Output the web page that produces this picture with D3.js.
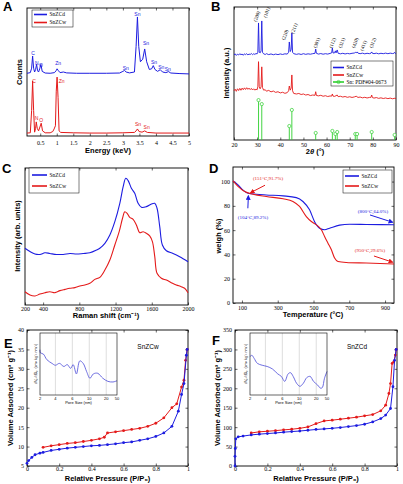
<!DOCTYPE html>
<html>
<head>
<meta charset="utf-8">
<script src="https://cdn.jsdelivr.net/npm/d3@7"></script>
<style>
  body { margin: 0; background: #fff; }
</style>
</head>
<body>
<svg id="fig" width="403" height="484" font-family="'Liberation Serif', serif"></svg>
<script>
// ---- data ----
// A: EDS spectra [energy keV, counts (arb.)]
var edsD = [[0.1,49],[0.2,49.5],[0.24,53],[0.27,62.5],[0.30,53],[0.33,50],[0.36,52],[0.39,56],[0.42,51],[0.45,50],[0.49,53],[0.52,56],[0.56,50.5],[0.65,49.2],[0.8,49],[0.93,49.5],[0.98,51],[1.01,52.5],[1.05,51],[1.1,49.5],[1.2,50],[1.3,49.3],[1.6,49],[2,49],[2.5,49],[2.9,49.2],[3.0,50.5],[3.05,51.2],[3.1,50],[3.2,49.3],[3.35,50],[3.4,70],[3.44,93],[3.48,70],[3.53,58],[3.6,60],[3.66,68],[3.72,58],[3.8,52],[3.87,52.5],[3.92,55],[3.97,52],[4.05,50.5],[4.13,51.8],[4.2,50],[4.3,49.5],[4.38,50.3],[4.45,49.2],[4.7,48.8],[5,48.5]];
var edsW = [[0.1,2.3],[0.2,2.5],[0.24,20],[0.27,43],[0.30,20],[0.33,3],[0.36,6],[0.38,11],[0.41,6],[0.45,4],[0.49,7],[0.53,10],[0.57,4],[0.65,2.5],[0.8,2.5],[0.88,3.5],[0.92,5.5],[0.96,8],[0.985,35],[1.01,46],[1.04,30],[1.07,4],[1.12,2.8],[1.5,2.5],[2,2.3],[2.5,2.3],[3,2.5],[3.35,2.8],[3.4,4],[3.44,5.5],[3.49,3.5],[3.58,3],[3.66,4],[3.74,2.8],[4,2.3],[4.5,2.3],[5,2.3]];
var edsLabelsD = [["C",0.28,65],["N",0.40,57],["O",0.52,55],["Zn",1.04,57],["Sn",3.09,53],["Sn",3.44,95],["Sn",3.70,72.5],["Sn",3.94,58],["Sn",4.16,54],["Sn",4.36,52.5]];
var edsLabelsW = [["C",0.31,43],["Zn",1.15,43],["N",0.39,14],["O",0.53,12.5],["Sn",3.46,9.5],["Sn",3.72,7]];

// B: XRD [2theta, intensity (a.u.)]
var xrdD = [[20,64.0],[20.5,64.8],[21,63.6],[21.5,64.5],[22,63.9],[22.5,64.9],[23,64.1],[23.5,64.6],[24,63.7],[24.5,64.8],[25,64.2],[25.5,64.9],[26,64.0],[26.5,64.6],[27,64.3],[27.5,65.0],[28,64.2],[28.5,64.8],[29,64.4],[29.5,65.0],[30,64.8],[30.3,66],[30.6,88],[30.9,66],[31.3,65.5],[31.7,67],[32.0,89.5],[32.3,66],[32.8,64.8],[33.5,64.3],[34,64.9],[35,64.2],[36,64.7],[37,64.1],[38,64.6],[39,64.2],[40,64.7],[41,64.3],[42,64.8],[43,64.6],[43.6,66],[43.9,73.7],[44.3,66.5],[44.7,68],[45.0,80.5],[45.3,66],[45.8,64.9],[47,64.4],[48,64.8],[49,64.3],[50,64.9],[51,64.4],[52,64.8],[53,64.5],[54,64.9],[55,65.2],[55.3,68.4],[55.6,65.2],[56.5,64.6],[57.5,65],[58.5,64.5],[59.5,64.9],[60.5,64.6],[61.5,65.1],[62.2,65.5],[62.5,69.2],[62.8,65.4],[63.5,65.6],[63.8,67],[64.1,65.5],[64.6,67.7],[65,65.2],[66,64.8],[67,65.2],[68,64.7],[69,65.1],[70,64.8],[71,65.2],[72,65.4],[72.4,65.9],[72.8,65.6],[73.2,66.2],[73.6,65.3],[74.5,64.9],[75.5,65.3],[76.5,64.8],[77.5,65.2],[78.5,64.9],[79.2,65.3],[79.5,66.2],[79.8,65.2],[80.5,64.9],[81.5,65.3],[82.5,64.8],[83.5,65.2],[84.5,64.9],[85.5,65.3],[86.5,64.9],[87.5,65.3],[88.5,65.0],[89.1,65.2],[89.4,65.9],[89.7,65.1],[90,65.0]];
var xrdW = [[20,37],[20.5,38.2],[21,36.6],[21.5,38.5],[22,37.2],[22.5,38.8],[23,37.4],[23.5,39],[24,37.8],[24.5,39.2],[25,38],[25.5,39.3],[26,38.1],[26.5,39],[27,37.9],[27.5,38.8],[28,37.6],[28.5,38.5],[29,37.5],[29.5,38.2],[30,37.8],[30.3,40],[30.6,58.9],[30.9,40],[31.3,38.5],[31.7,40],[32.0,55],[32.3,39.5],[32.8,37.5],[33.5,37.8],[34,36.7],[35,37.3],[36,36.2],[37,36.8],[38,35.8],[39,36.3],[40,35.4],[41,35.9],[42,35.1],[43,35.6],[43.6,37],[43.9,40.6],[44.3,37.5],[44.7,39],[45.0,48.9],[45.3,37],[45.8,35],[47,34.6],[48,35],[49,34.2],[50,34.6],[51,33.8],[52,34.2],[53,33.4],[54,33.8],[55,33.6],[55.3,36.3],[55.6,33.5],[56.5,33.2],[57.5,33.6],[58.5,32.9],[59.5,33.3],[60.5,32.7],[61.5,33.1],[62.2,33],[62.5,34.6],[62.8,33],[63.5,32.8],[64.6,33.8],[65,32.6],[66,32.9],[67,32.3],[68,32.7],[69,32.1],[70,32.5],[71,32],[72,32.4],[72.8,32.9],[73.6,32],[74.5,32.3],[75.5,31.7],[76.5,32.1],[77.5,31.6],[78.5,32],[79.2,32.1],[79.5,33.8],[79.8,31.9],[80.5,31.5],[81.5,31.9],[82.5,31.3],[83.5,31.7],[84.5,31.2],[85.5,31.6],[86.5,31.1],[87.5,31.5],[88.5,31],[89.5,31.4],[90,31.2]];
var pdfPos = [30.6, 32.0, 43.9, 45.0, 55.3, 62.5, 63.8, 64.6, 72.4, 73.2, 79.5, 89.4];
var pdfInt = [30, 27, 10.5, 22.6, 5.3, 6.8, 4.5, 6, 4.5, 4.5, 6, 3.8];
var hklText = ["(200)","(101)","(220)","(211)","(301)","(112)","(321)","(420)","(411)","(312)"];
var hklAt   = [[29.8,93],[34.1,96],[42,79],[46,84],[55.7,73],[62.5,73],[66.5,73],[72.3,73],[75.9,71],[79.9,73]];

// C: Raman [shift cm-1, intensity]
var ramanD = [[200,41.4],[255,39],[310,37.2],[365,36.9],[420,38.1],[475,37.6],[549,36.9],[622,36.9],[696,37.6],[769,37.2],[843,37.6],[916,38.1],[990,40.1],[1026,41.4],[1082,45],[1137,51.1],[1192,60.8],[1247,74.2],[1284,86.4],[1313,92.5],[1339,90.8],[1375,85.2],[1412,81.5],[1449,74.2],[1486,71.3],[1541,71.8],[1596,73.7],[1633,74.2],[1658,70.6],[1688,57.2],[1717,43.8],[1761,39.6],[1835,37.6],[1908,35.2],[2000,31.6]];
var ramanW = [[200,9.7],[255,7.3],[310,6.6],[365,8.0],[420,9.0],[475,9.7],[531,9.0],[586,10.5],[641,11.4],[696,12.2],[751,12.7],[806,13.9],[861,14.6],[916,15.8],[971,18.7],[1026,20.2],[1082,25.5],[1137,32.8],[1192,43.8],[1240,53.5],[1277,63.3],[1302,68.1],[1328,66.9],[1357,64],[1394,62.5],[1430,58.4],[1467,52.8],[1504,53.5],[1541,52.3],[1577,50.4],[1607,46.2],[1633,35.3],[1658,23.1],[1706,19.5],[1761,18.2],[1816,16.3],[1871,14.6],[1926,13.4],[1963,12.2],[2000,9.0]];

// D: TGA [temperature C, weight %]
var tgaD = [[50,100.5],[78,97.3],[106,93],[134,90.4],[180,89.6],[236,89],[330,88.2],[404,86.8],[441,83.6],[478,76.7],[506,67],[534,61.6],[562,60.3],[590,61.6],[646,64.1],[702,64.9],[795,64.7],[950,64.4]];
var tgaW = [[50,100.5],[78,96],[115,91.8],[162,89.6],[236,87.7],[330,85.8],[385,83.6],[422,79.5],[460,71.2],[488,67.1],[516,64.4],[544,60.3],[562,54.8],[581,49.3],[600,43.8],[618,37],[637,34.2],[683,33.4],[795,32.9],[950,32.1]];
var tgaNotes = [
  { t: "(151°C,91.7%)", s: "w", at: [246,103], from: [229,97], to: [148,90.8] },
  { t: "(104°C,89.2%)", s: "d", at: [162,70.8], from: [133,78], to: [136,88.3] },
  { t: "(800°C,64.0%)", s: "d", at: [832,75.8], from: [816,72.5], to: [942,66.5] },
  { t: "(950°C,29.6%)", s: "w", at: [816,43.7], from: [838,38.7], to: [942,33.6] }
];

// E: SnZCw isotherm [P/P0, volume]
var isoWads = [[0,5.7],[0.01,6.4],[0.03,7.2],[0.05,7.9],[0.08,8.3],[0.1,8.5],[0.15,9.0],[0.2,9.3],[0.25,9.6],[0.3,9.8],[0.35,10.0],[0.4,10.2],[0.45,10.3],[0.5,10.5],[0.55,10.7],[0.6,11.0],[0.65,11.2],[0.7,11.6],[0.75,12.0],[0.8,12.6],[0.85,13.5],[0.9,15.2],[0.94,19.1],[0.96,23.4],[0.975,26.2],[0.99,33.5],[0.995,35.0]];
var isoWdes = [[0.1,9.8],[0.15,10.2],[0.2,10.5],[0.25,10.8],[0.3,11.0],[0.35,11.3],[0.4,11.6],[0.45,12.0],[0.48,12.4],[0.5,13.5],[0.55,13.8],[0.6,14.1],[0.65,14.4],[0.7,14.7],[0.75,15.2],[0.8,16.0],[0.85,17.4],[0.9,20.0],[0.93,21.0],[0.96,25.3],[0.975,27.1],[0.985,32.2],[0.995,35.0]];
var poreW = [[2,0.73],[2.05,0.68],[2.44,0.66],[2.89,0.57],[3.56,0.51],[4,0.48],[4.48,0.51],[5,0.46],[5.4,0.49],[5.8,0.43],[6.2,0.49],[6.96,0.34],[7.76,0.55],[8.56,0.51],[9.36,0.38],[10.4,0.27],[12.4,0.34],[15,0.35],[18,0.27],[24.7,0.22],[38.8,0.21],[50,0.23]];

// F: SnZCd isotherm
var isoDads = [[0,0],[0,25],[0.002,45],[0.005,70],[0.02,75],[0.05,77],[0.1,80],[0.15,82],[0.2,83.5],[0.25,85],[0.3,87],[0.35,88.6],[0.4,90],[0.45,92],[0.5,94],[0.55,95.5],[0.6,97],[0.65,99],[0.7,101.5],[0.75,104],[0.8,107.5],[0.85,113.5],[0.9,122],[0.93,131],[0.96,148],[0.975,204],[0.985,272],[0.995,300]];
var isoDdes = [[0.1,85],[0.15,88],[0.2,89.4],[0.25,91],[0.3,93],[0.35,94.6],[0.4,97],[0.45,100.6],[0.5,109],[0.55,116],[0.6,118],[0.65,120.4],[0.7,123],[0.75,125.6],[0.8,129],[0.85,132.4],[0.9,142],[0.93,156.5],[0.95,186.6],[0.96,212],[0.97,264],[0.98,268],[0.99,285.5],[0.995,300]];
var poreD = [[2,0.62],[2.25,0.64],[2.54,0.59],[2.96,0.51],[3.58,0.48],[4.21,0.46],[4.83,0.42],[5.46,0.34],[5.88,0.30],[6.56,0.22],[7.36,0.34],[7.92,0.36],[8.56,0.30],[9.36,0.19],[10.4,0.14],[12.4,0.19],[14.4,0.28],[16.4,0.30],[18.4,0.22],[24,0.16],[32,0.11],[37,0.12],[43,0.27],[50,0.38]];
var poreTicks = [2, 4, 6, 10, 20, 50];

// ---- drawing ----
var svg = d3.select("#fig");
var blue = "#1c1ce0", red = "#e41a1a", green = "#2fcf2f";
var sans = "'Liberation Sans', Arial, sans-serif";

function frame(box, xd, yd, o) {
  var x = d3.scaleLinear().domain(xd).range([box[0], box[2]]);
  var y = d3.scaleLinear().domain(yd).range([box[3], box[1]]);
  var tk = 2.5;
  function st(g) {
    g.attr("font-family", null).attr("font-size", null);
    g.select(".domain").remove();
    g.selectAll("line").attr("stroke-width", 0.6);
    g.selectAll("text").attr("font-size", 6);
  }
  svg.append("g").attr("transform", "translate(0," + box[3] + ")")
    .call(d3.axisBottom(x).tickValues(o.xt).tickSize(-tk).tickPadding(o.xpad == null ? 3 : o.xpad).tickFormat(function (d) { return d; }))
    .call(st);
  svg.append("g").attr("transform", "translate(0," + box[1] + ")")
    .call(d3.axisTop(x).tickValues(o.xt).tickSize(-tk).tickFormat(""))
    .call(st);
  if (o.yt) {
    svg.append("g").attr("transform", "translate(" + box[0] + ",0)")
      .call(d3.axisLeft(y).tickValues(o.yt).tickSize(-tk).tickPadding(3).tickFormat(function (d) { return d; }))
      .call(st);
    svg.append("g").attr("transform", "translate(" + box[2] + ",0)")
      .call(d3.axisRight(y).tickValues(o.yt).tickSize(-tk).tickFormat(""))
      .call(st);
  }
  svg.append("rect").attr("x", box[0]).attr("y", box[1])
    .attr("width", box[2] - box[0]).attr("height", box[3] - box[1])
    .attr("fill", "none").attr("stroke", "#000").attr("stroke-width", 0.9);
  return { x: x, y: y };
}

function curve(p, data, color, w, c) {
  var line = d3.line().x(function (d) { return p.x(d[0]); }).y(function (d) { return p.y(d[1]); })
    .curve(c || d3.curveLinear);
  svg.append("path").datum(data).attr("d", line)
    .attr("fill", "none").attr("stroke", color).attr("stroke-width", w).attr("stroke-linejoin", "round");
}

function title(t, x, y, rot) {
  svg.append("text").attr("transform", "translate(" + x + "," + y + ")" + (rot ? " rotate(-90)" : ""))
    .attr("text-anchor", "middle").attr("font-family", sans).attr("font-weight", "bold")
    .attr("font-size", 7.5).text(t);
}

function letter(t, x, y) {
  svg.append("text").attr("x", x).attr("y", y).attr("font-family", sans)
    .attr("font-weight", "bold").attr("font-size", 13).text(t);
}

function legend(bx, by, bw, bh, items, lx0, lx1) {
  svg.append("rect").attr("x", bx).attr("y", by).attr("width", bw).attr("height", bh)
    .attr("fill", "#fff").attr("stroke", "#000").attr("stroke-width", 0.5);
  items.forEach(function (it) {
    svg.append("line").attr("x1", lx0).attr("x2", lx1).attr("y1", it.y).attr("y2", it.y)
      .attr("stroke", it.c).attr("stroke-width", 1.6);
    if (it.m) svg.append("circle").attr("cx", (lx0 + lx1) / 2).attr("cy", it.y).attr("r", 1.6)
      .attr("fill", "none").attr("stroke", it.c).attr("stroke-width", 0.7);
    svg.append("text").attr("x", lx1 + 2.5).attr("y", it.y).attr("dy", "0.35em")
      .attr("font-size", 5.5).text(it.t);
  });
}

// ---- A ----
var pA = frame([27, 8, 189, 136], [0.1, 5], [0, 100], { xt: [0.5, 1, 1.5, 2, 2.5, 3, 3.5, 4, 4.5, 5], xpad: 5 });
curve(pA, edsD, blue, 1);
curve(pA, edsW, red, 1);
[[edsLabelsD, blue], [edsLabelsW, red]].forEach(function (s) {
  svg.append("g").selectAll("text").data(s[0]).join("text")
    .attr("x", function (d) { return pA.x(d[1]); }).attr("y", function (d) { return pA.y(d[2]); })
    .attr("text-anchor", "middle").attr("dy", "0.35em").attr("font-family", sans)
    .attr("font-size", 5).attr("fill", s[1]).text(function (d) { return d[0]; });
});
legend(32, 10, 41, 17, [{ c: blue, t: "SnZCd", y: 14.5 }, { c: red, t: "SnZCw", y: 22.5 }], 34, 47);
title("Energy (keV)", 108, 153);
title("Counts", 22, 72, true);
letter("A", 3, 11);

// ---- B ----
var pB = frame([234, 7, 396, 140], [20, 90], [0, 100], { xt: [20, 30, 40, 50, 60, 70, 80, 90] });
curve(pB, xrdD, blue, 0.9);
curve(pB, xrdW, red, 0.9);
svg.append("g").selectAll("line").data(pdfPos).join("line")
  .attr("x1", function (d) { return pB.x(d); }).attr("x2", function (d) { return pB.x(d); })
  .attr("y1", pB.y(0)).attr("y2", function (d, i) { return pB.y(pdfInt[i]); })
  .attr("stroke", green).attr("stroke-width", 0.9);
svg.append("g").selectAll("circle").data(pdfPos).join("circle")
  .attr("cx", function (d) { return pB.x(d); }).attr("cy", function (d, i) { return pB.y(pdfInt[i]); })
  .attr("r", 1.6).attr("fill", "#fff").attr("stroke", green).attr("stroke-width", 0.7);
svg.append("g").selectAll("text").data(hklText).join("text")
  .attr("transform", function (d, i) { return "translate(" + pB.x(hklAt[i][0]) + "," + pB.y(hklAt[i][1]) + ") rotate(-70)"; })
  .attr("text-anchor", "middle").attr("dy", "0.35em").attr("font-size", 5).text(function (d) { return d; });
legend(331, 61, 62, 25, [{ c: blue, t: "SnZCd", y: 67.5 }, { c: red, t: "SnZCw", y: 75 }, { c: green, t: "Sn: PDF#04-0673", y: 82, m: true }], 333, 344);
var tB = svg.append("text").attr("x", 315).attr("y", 154).attr("text-anchor", "middle")
  .attr("font-family", sans).attr("font-weight", "bold").attr("font-size", 7.5);
tB.append("tspan").text("2");
tB.append("tspan").attr("font-style", "italic").text("θ");
tB.append("tspan").text(" (°)");
title("Intensity (a.u.)", 229, 73, true);
letter("B", 211, 11);

// ---- C ----
var pC = frame([25, 168, 188, 305], [200, 2000], [0, 100], { xt: [200, 400, 800, 1200, 1600, 2000], xpad: 2 });
curve(pC, ramanD, blue, 1.1, d3.curveCatmullRom);
curve(pC, ramanW, red, 1.1, d3.curveCatmullRom);
legend(29, 168, 50, 25, [{ c: blue, t: "SnZCd", y: 175 }, { c: red, t: "SnZCw", y: 186 }], 32, 47);
title("Raman shift (cm⁻¹)", 106, 318);
title("Intensity (arb. units)", 20, 236, true);
letter("C", 2, 173);

// ---- D ----
var pD = frame([233, 167, 394, 303], [50, 950], [0, 112], { xt: [100, 300, 500, 700, 900], yt: [0, 20, 40, 60, 80, 100] });
curve(pD, tgaD, blue, 1.1, d3.curveMonotoneX);
curve(pD, tgaW, red, 1.1, d3.curveMonotoneX);
var defs = svg.append("defs");
[["d", blue], ["w", red]].forEach(function (m) {
  defs.append("marker").attr("id", "ah" + m[0]).attr("viewBox", "0 0 10 10").attr("refX", 8).attr("refY", 5)
    .attr("markerWidth", 5).attr("markerHeight", 5).attr("orient", "auto-start-reverse")
    .append("path").attr("d", "M0,0L10,5L0,10z").attr("fill", m[1]);
});
tgaNotes.forEach(function (n) {
  var c = n.s === "d" ? blue : red;
  svg.append("line").attr("x1", pD.x(n.from[0])).attr("y1", pD.y(n.from[1]))
    .attr("x2", pD.x(n.to[0])).attr("y2", pD.y(n.to[1]))
    .attr("stroke", c).attr("stroke-width", 1).attr("marker-end", "url(#ah" + n.s + ")");
  svg.append("text").attr("x", pD.x(n.at[0])).attr("y", pD.y(n.at[1])).attr("dy", "0.35em")
    .attr("text-anchor", "middle").attr("font-size", 5).attr("fill", c).text(n.t);
});
legend(343, 170, 49, 23, [{ c: blue, t: "SnZCd", y: 176 }, { c: red, t: "SnZCw", y: 186 }], 345, 359);
title("Temperature (°C)", 313, 317);
title("weigh (%)", 221, 236, true);
letter("D", 209, 173);

// ---- E / F ----
function iso(box, yd, yt, ads, des, name, nameX) {
  var p = frame(box, [0, 1], yd, { xt: [0, 0.2, 0.4, 0.6, 0.8, 1], yt: yt, xpad: 1 });
  [[des, red], [ads, blue]].forEach(function (s) {
    curve(p, s[0], s[1], 1);
    svg.append("g").selectAll("circle").data(s[0]).join("circle")
      .attr("cx", function (d) { return p.x(d[0]); }).attr("cy", function (d) { return p.y(d[1]); })
      .attr("r", 1.4).attr("fill", s[1]);
  });
  svg.append("text").attr("x", nameX).attr("y", 349).attr("text-anchor", "middle")
    .attr("font-family", sans).attr("font-size", 6.5).text(name);
  title("Relative Pressure (P/P₀)", (box[0] + box[2]) / 2, 481);
  return p;
}

function inset(box, data) {
  var w = box[2] - box[0];
  var frac = [0, 0.2, 0.42, 0.64, 0.86, 1];
  var x = d3.scaleLinear().domain(poreTicks).range(frac.map(function (f) { return box[0] + f * w; }));
  var y = d3.scaleLinear().domain([0, 1]).range([box[3], box[1]]);
  svg.append("rect").attr("x", box[0]).attr("y", box[1]).attr("width", w).attr("height", box[3] - box[1])
    .attr("fill", "#fff");
  svg.append("g").selectAll("line").data([4, 6, 10, 20]).join("line")
    .attr("x1", function (d) { return x(d); }).attr("x2", function (d) { return x(d); })
    .attr("y1", box[1]).attr("y2", box[3]).attr("stroke", "#bbb").attr("stroke-width", 0.5);
  svg.append("path").datum(data)
    .attr("d", d3.line().x(function (d) { return x(d[0]); }).y(function (d) { return y(d[1]); }).curve(d3.curveCatmullRom))
    .attr("fill", "none").attr("stroke", "#4a4ad8").attr("stroke-width", 0.8);
  svg.append("rect").attr("x", box[0]).attr("y", box[1]).attr("width", w).attr("height", box[3] - box[1])
    .attr("fill", "none").attr("stroke", "#000").attr("stroke-width", 0.6);
  svg.append("g").selectAll("text").data(poreTicks).join("text")
    .attr("x", function (d) { return x(d); }).attr("y", box[3] + 4.5).attr("text-anchor", "middle")
    .attr("font-family", sans).attr("font-size", 4).text(function (d) { return d; });
  svg.append("text").attr("x", box[0] + w / 2).attr("y", box[3] + 9).attr("text-anchor", "middle")
    .attr("font-family", sans).attr("font-size", 4).text("Pore Size (nm)");
  svg.append("text").attr("transform", "translate(" + (box[0] - 3) + "," + ((box[1] + box[3]) / 2) + ") rotate(-90)")
    .attr("text-anchor", "middle").attr("font-family", sans).attr("font-size", 3.8)
    .text("dVₚ/dDₚ (cm³ kg⁻¹ nm⁻¹)");
}

iso([27, 330, 188, 466], [5, 40], [5, 10, 15, 20, 25, 30, 35, 40], isoWads, isoWdes, "SnZCw", 148);
inset([40, 333, 117, 395], poreW);
title("Volume Adsorbed (cm³ g⁻¹)", 13, 398, true);
letter("E", 4, 348);

iso([235, 330, 397, 466], [0, 350], [0, 50, 100, 150, 200, 250, 300, 350], isoDads, isoDdes, "SnZCd", 357);
inset([250, 333, 327, 395], poreD);
title("Volume Adsorbed (cm³ g⁻¹)", 220, 398, true);
letter("F", 212, 345);
</script>
</body>
</html>
